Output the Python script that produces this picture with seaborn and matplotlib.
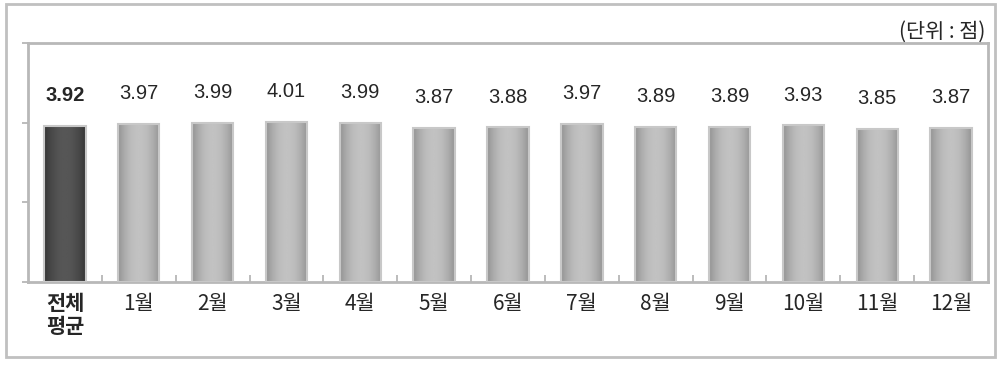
import numpy as np
import pandas as pd
import matplotlib
matplotlib.use("Agg")
import matplotlib.pyplot as plt
import seaborn as sns
from matplotlib.patches import Rectangle

# data
categories = ["전체\n평균", "1월", "2월", "3월", "4월", "5월", "6월",
              "7월", "8월", "9월", "10월", "11월", "12월"]
scores = [3.92, 3.97, 3.99, 4.01, 3.99, 3.87, 3.88, 3.97, 3.89, 3.89, 3.93, 3.85, 3.87]

df = pd.DataFrame({"cat": categories, "score": scores})

sns.set_style("white")
plt.rcParams["font.family"] = ["Liberation Sans", "Noto Sans CJK KR"]
kr_font = ["Noto Sans CJK KR", "DejaVu Sans"]

fig = plt.figure(figsize=(10.02, 3.65), dpi=100)
ax = fig.add_axes([0.028, 0.2274, 0.958, 0.655])

sns.barplot(data=df, x="cat", y="score", ax=ax, width=0.56,
            color="#b0b0b0", edgecolor="#c8c8c8", linewidth=1.5, zorder=2)

# cylinder-like shading on each bar
grad = np.abs(np.linspace(-1, 1, 64))
for i, p in enumerate(ax.patches):
    x0, y0 = p.get_x(), p.get_y()
    w, h = p.get_width(), p.get_height()
    if i == 0:
        shade = 0.34 - 0.13 * grad ** 2
    else:
        shade = 0.76 - 0.18 * grad ** 2
    img = np.tile(shade, (2, 1))
    im = ax.imshow(img, cmap="gray", vmin=0, vmax=1, aspect="auto",
                   extent=[x0, x0 + w, y0, y0 + h], zorder=2.5,
                   interpolation="bilinear")
    im.set_clip_path(p)
    p.set_facecolor("none")
    p.set_zorder(3)

ax.set_xlim(-0.5, len(categories) - 0.5)
ax.set_ylim(0, 6)
ax.set_yticks([0, 2, 4, 6])
ax.set_yticklabels([])
ax.set_xlabel("")
ax.set_ylabel("")

labels = ax.bar_label(ax.containers[0], fmt="%.2f", padding=15, fontsize=14.5)
labels[0].set_fontweight("bold")

ax.set_xticks(range(len(categories)))
ax.set_xticklabels(categories, fontsize=15, linespacing=1.1, va="top", family=kr_font)
ax.get_xticklabels()[0].set_fontweight("bold")
ax.tick_params(axis="x", length=0, pad=8)
ax.tick_params(axis="y", length=4, width=1.2, color="#b0b0b0", direction="out", left=True)
ax.set_xticks(np.arange(0.5, len(categories) - 1, 1), minor=True)
ax.tick_params(axis="x", which="minor", length=5, width=1.2, color="#b0b0b0",
               direction="in", bottom=True)

for s in ax.spines.values():
    s.set_visible(True)
    s.set_color("#b8b8b8")
    s.set_linewidth(2)

fig.text(0.983, 0.912, "(단위 : 점)", ha="right", va="center", fontsize=15, family=kr_font)

fig.patches.append(Rectangle((0.006, 0.022), 0.987, 0.968, transform=fig.transFigure,
                             fill=False, edgecolor="#c0c0c0", linewidth=2))

fig.savefig("out.png", dpi=100)
